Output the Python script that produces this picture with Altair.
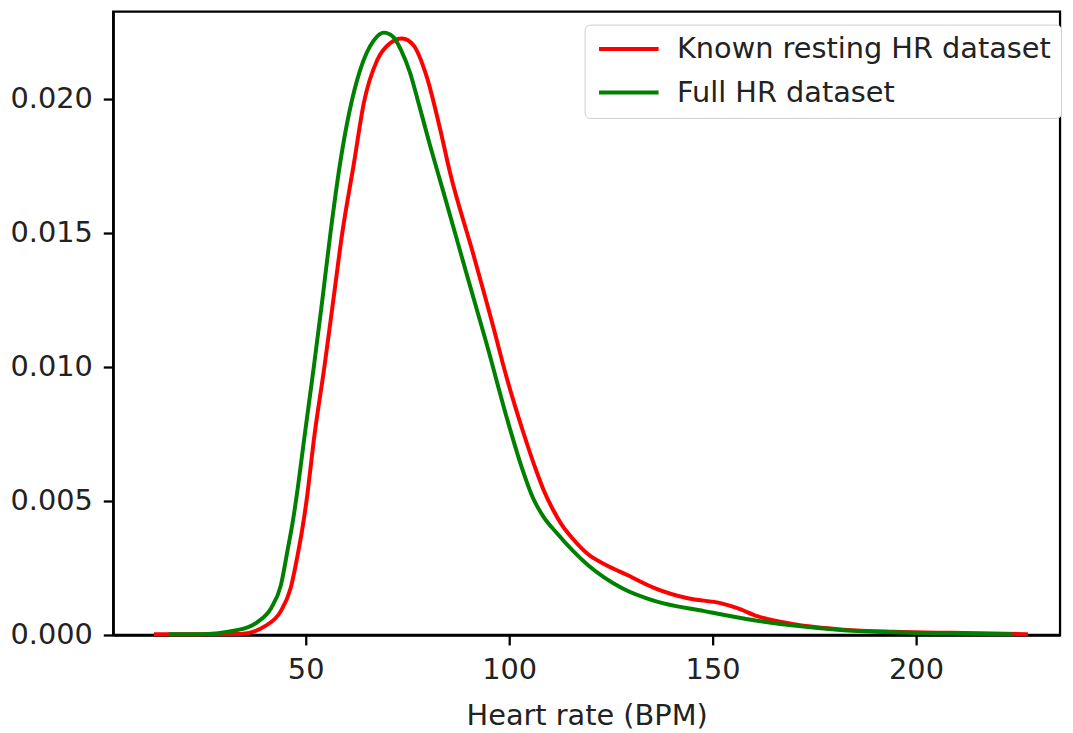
import altair as alt
import pandas as pd

series_names = ["Known resting HR dataset", "Full HR dataset"]
series_colors = ["#ff0000", "#008000"]

# Known resting HR dataset (red)
red_x = [12.7, 23.7, 34.1, 40.0, 43.9, 46.3, 48.0, 49.3, 50.2, 52.2, 54.6, 56.8, 59.0,
         61.9, 64.3, 67.6, 70.7, 73.7, 76.5, 79.8, 83.0, 85.4, 91.2, 96.8, 98.5, 103.4,
         106.5, 108.5, 110.7, 113.0, 115.6, 119.5, 123.7, 129.3, 135.9, 143.9, 152.2,
         156.1, 161.0, 170.0, 182.2, 194.4, 209.0, 218.8, 227.5]
red_y = [0.00003, 0.00003, 0.00004, 0.00033, 0.00089, 0.00174, 0.00296, 0.00407, 0.0050,
         0.0075, 0.0100, 0.0125, 0.0150, 0.01763, 0.01985, 0.02145, 0.02207, 0.02225,
         0.0220, 0.0208, 0.0189, 0.0173, 0.0142, 0.0111, 0.0101, 0.0076, 0.0062, 0.0054,
         0.0047, 0.0041, 0.0036, 0.0030, 0.00262, 0.00222, 0.00174, 0.00137, 0.00118,
         0.0010, 0.0007, 0.0004, 0.0002, 0.00012, 0.00008, 0.00006, 0.00003]

# Full HR dataset (green)
green_x = [16.3, 23.7, 33.4, 38.3, 41.5, 43.9, 45.6, 46.8, 47.8, 49.8, 52.0, 54.1, 56.1,
           58.5, 60.7, 63.4, 66.8, 69.2, 71.6, 73.5, 75.6, 78.0, 80.5, 83.9, 89.5, 94.4,
           100.0, 103.0, 105.9, 108.5, 111.5, 119.5, 127.8, 135.9, 148.0, 160.2, 170.0,
           182.2, 194.4, 209.0, 223.7]
green_y = [0.00003, 0.00003, 0.00019, 0.0005, 0.0010, 0.00185, 0.0032, 0.0042, 0.0052,
           0.0075, 0.0100, 0.0125, 0.0150, 0.01763, 0.01948, 0.02108, 0.02219, 0.02247,
           0.0223, 0.0218, 0.0210, 0.0197, 0.0183, 0.0165, 0.0135, 0.0109, 0.0078,
           0.0063, 0.0051, 0.0044, 0.00384, 0.00259, 0.00174, 0.00126, 0.00089, 0.00055,
           0.00035, 0.00018, 0.0001, 0.00006, 0.00003]

x_ticks = [50, 100, 150, 200]
y_ticks = [0.0, 0.005, 0.010, 0.015, 0.020]

rows = []
for i, (xv, yv) in enumerate(zip(red_x, red_y)):
    rows.append({"series": series_names[0], "hr": xv, "density": yv, "order": i})
for i, (xv, yv) in enumerate(zip(green_x, green_y)):
    rows.append({"series": series_names[1], "hr": xv, "density": yv, "order": i})
df = pd.DataFrame(rows)

font = "DejaVu Sans"
fs = 29
txt = "#222222"

chart = alt.Chart(df).mark_line(strokeWidth=4, interpolate="monotone").encode(
    x=alt.X("hr:Q", title="Heart rate (BPM)",
            scale=alt.Scale(domain=[2.7, 235.4], nice=False, zero=False),
            axis=alt.Axis(values=x_ticks, grid=False, tickSize=10, tickWidth=2.3,
                          domainWidth=2.3, domainColor="#000000", tickColor="#000000",
                          labelFontSize=fs, labelFont=font, labelColor=txt,
                          labelPadding=11, titleFontSize=fs, titleFont=font,
                          titleFontWeight="normal", titleColor=txt, titlePadding=17)),
    y=alt.Y("density:Q", title=None,
            scale=alt.Scale(domain=[0, 0.02325], nice=False, zero=True),
            axis=alt.Axis(values=y_ticks, format=".3f", grid=False, tickSize=10,
                          tickWidth=2.3, domainWidth=2.3, domainColor="#000000",
                          tickColor="#000000", labelFontSize=fs, labelFont=font,
                          labelColor=txt, labelPadding=11)),
    color=alt.Color("series:N",
                    scale=alt.Scale(domain=series_names, range=series_colors),
                    legend=alt.Legend(title=None, orient="none", legendX=475, legendY=13,
                                      symbolType="M-3,0H3", symbolSize=400,
                                      symbolStrokeWidth=4, symbolOffset=20,
                                      labelFontSize=fs, labelFont=font, labelColor=txt,
                                      labelOffset=34, labelLimit=800, rowPadding=14,
                                      padding=10, strokeColor="#d0d0d0",
                                      fillColor="#ffffff", cornerRadius=5)),
    detail="series:N",
    order="order:Q",
).properties(
    width=954, height=628,
    autosize=alt.AutoSizeParams(type="none"),
    padding={"left": 106, "top": 1, "right": 5, "bottom": 94},
).configure_view(
    stroke="#000000", strokeWidth=2.3
)

chart.save("out.html", embed_options={"renderer": "svg", "actions": False})
